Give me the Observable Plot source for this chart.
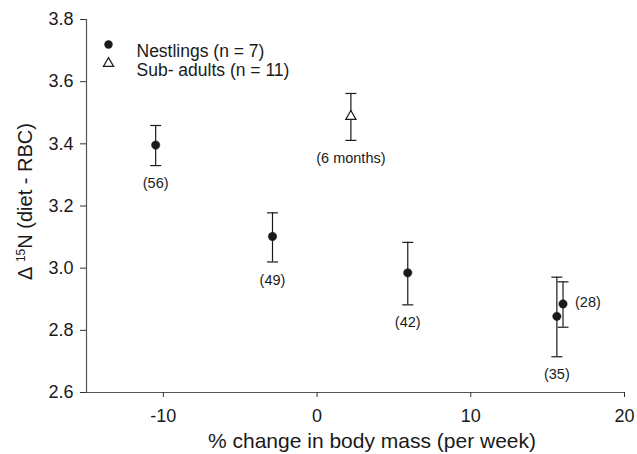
<!DOCTYPE html>
<html><head><meta charset="utf-8">
<script src="https://cdn.jsdelivr.net/npm/d3@7"></script>
<script src="https://cdn.jsdelivr.net/npm/@observablehq/plot@0.6"></script>
<style>
body{margin:0;background:#fff;}
svg{font-family:"Liberation Sans",Arial,sans-serif;}
</style>
</head><body><div id="chart"></div>
<script>
// ---- data ----
const groups = ["Nestlings","Nestlings","Nestlings","Nestlings","Nestlings","Sub-adults"];
const massChange = [-10.5, -2.9, 5.9, 15.6, 16.0, 2.2];
const delta15N = [3.396, 3.102, 2.985, 2.845, 2.885, 3.488];
const errLow = [3.330, 3.020, 2.882, 2.715, 2.810, 3.411];
const errHigh = [3.459, 3.178, 3.083, 2.971, 2.956, 3.562];
const pointLabels = ["(56)","(49)","(42)","(35)","(28)","(6 months)"];
const labelSide = ["below","below","below","below","right","below"];
const xTicks = [-10, 0, 10, 20];
const yTicks = [2.6, 2.8, 3.0, 3.2, 3.4, 3.6, 3.8];
const xDomain = [-15, 20];
const yDomain = [2.6, 3.8];
const legendLabels = ["Nestlings (n = 7)", "Sub- adults (n = 11)"];
const xLabel = "% change in body mass (per week)";

const data = massChange.map((x, i) => ({
  group: groups[i], x, y: delta15N[i], lo: errLow[i], hi: errHigh[i],
  label: pointLabels[i], side: labelSide[i]
}));
const nest = data.filter(d => d.group === "Nestlings");
const sub = data.filter(d => d.group === "Sub-adults");

const capSymbol = {
  draw(context, size) {
    const r = Math.sqrt(size / Math.PI);
    context.moveTo(-r, 0);
    context.lineTo(r, 0);
  }
};
const ink = "#1a1a1a";
const W = 637, H = 454, mL = 86, mR = 13, mT = 19, mB = 62;

const chart = Plot.plot({
  width: W, height: H,
  marginLeft: mL, marginRight: mR, marginTop: mT, marginBottom: mB,
  style: {fontFamily: "Liberation Sans, Arial, sans-serif", fontSize: "18px", color: ink, background: "#fff"},
  x: {domain: xDomain, ticks: xTicks},
  y: {domain: yDomain, ticks: yTicks},
  marks: [
    Plot.ruleX([xDomain[0]], {stroke: "#555", strokeWidth: 1.2}),
    Plot.ruleY([yDomain[0]], {stroke: "#555", strokeWidth: 1.2}),
    Plot.axisX({ticks: xTicks, tickSize: 5, tickPadding: 12, label: null, fontSize: 18, stroke: "#333", tickFormat: d => d.toString()}),
    Plot.axisY({ticks: yTicks, tickSize: 6, tickPadding: 7, label: null, fontSize: 18, stroke: "#333", tickFormat: d => d.toFixed(1)}),
    // error bars
    Plot.ruleX(data, {x: "x", y1: "lo", y2: "hi", stroke: ink, strokeWidth: 1.2}),
    Plot.dot(data, {x: "x", y: "lo", symbol: capSymbol, r: 5.5, stroke: ink, strokeWidth: 1.2, fill: "none"}),
    Plot.dot(data, {x: "x", y: "hi", symbol: capSymbol, r: 5.5, stroke: ink, strokeWidth: 1.2, fill: "none"}),
    // points
    Plot.dot(nest, {x: "x", y: "y", r: 4.2, fill: ink, stroke: ink, strokeWidth: 0.5}),
    Plot.dot(sub, {x: "x", y: "y", symbol: "triangle", r: 3.8, fill: "#fff", stroke: ink, strokeWidth: 1.2}),
    // point labels
    Plot.text(data.filter(d => d.side === "below"), {x: "x", y: "lo", text: "label", dy: 18, fontSize: 14.5, fill: ink}),
    Plot.text(data.filter(d => d.side === "right"), {x: "x", y: "y", text: "label", dx: 12, dy: -2, textAnchor: "start", fontSize: 14.5, fill: ink}),
    // legend
    Plot.dot([legendLabels[0]], {frameAnchor: "top-left", dx: 22, dy: 25, r: 4.2, fill: ink}),
    Plot.dot([legendLabels[1]], {frameAnchor: "top-left", dx: 22, dy: 44, r: 3.8, symbol: "triangle", fill: "#fff", stroke: ink, strokeWidth: 1.2}),
    Plot.text([legendLabels[0]], {frameAnchor: "top-left", dx: 50, dy: 25, text: d => d, textAnchor: "start", fontSize: 17.5, fill: ink}),
    Plot.text([legendLabels[1]], {frameAnchor: "top-left", dx: 50, dy: 44, text: d => d, textAnchor: "start", fontSize: 17.5, fill: ink})
  ]
});
document.getElementById("chart").appendChild(chart);

const svg = d3.select(chart);
// x-axis label
svg.append("text")
  .attr("x", 372).attr("y", 448)
  .attr("text-anchor", "middle").attr("font-size", 21).attr("fill", ink)
  .attr("font-family", "Liberation Sans, Arial, sans-serif")
  .text(xLabel);
// y-axis label with superscript
const yLab = svg.append("text")
  .attr("transform", `translate(32,${(mT + H - mB) / 2 - 4}) rotate(-90)`)
  .attr("text-anchor", "middle")
  .attr("font-size", 20)
  .attr("fill", ink)
  .attr("font-family", "Liberation Sans, Arial, sans-serif");
yLab.append("tspan").text("Δ ");
yLab.append("tspan").attr("font-size", 12).attr("baseline-shift", "super").text("15");
yLab.append("tspan").text("N (diet - RBC)");
</script>
</body></html>
